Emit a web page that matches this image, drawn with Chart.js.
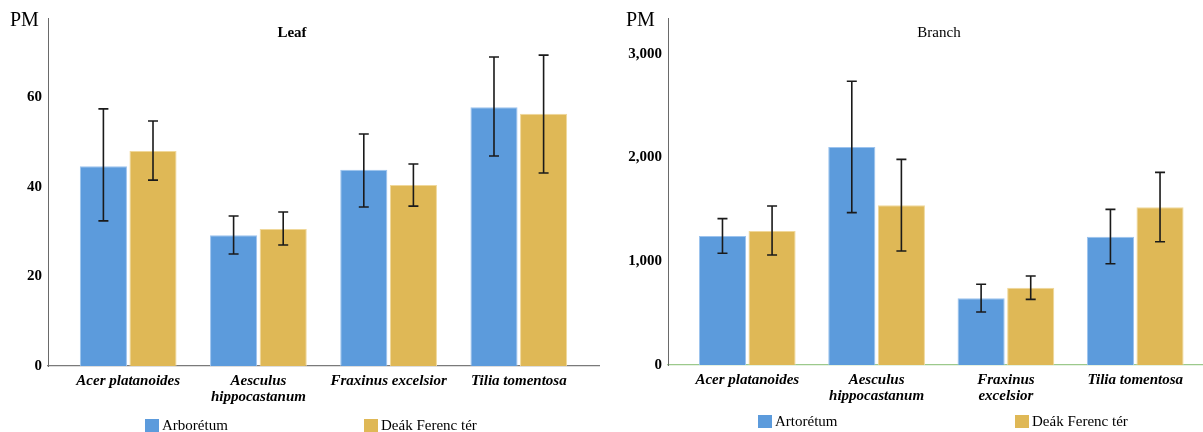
<!DOCTYPE html>
<html>
<head>
<meta charset="utf-8">
<script src="https://cdn.jsdelivr.net/npm/chart.js@4"></script>
<style>
  body { margin: 0; background: #fff; }
  .wrap { position: absolute; top: 0; height: 432px; }
  #leafWrap { left: 0; width: 600px; }
  #branchWrap { left: 600px; width: 603px; }
</style>
</head>
<body>
<div class="wrap" id="leafWrap"><canvas id="leafChart"></canvas></div>
<div class="wrap" id="branchWrap"><canvas id="branchChart"></canvas></div>
<script>
// species on the x axis (one entry per line of the tick label)
const leafCategories = [['Acer platanoides'], ['Aesculus', 'hippocastanum'], ['Fraxinus excelsior'], ['Tilia tomentosa']];
const branchCategories = [['Acer platanoides'], ['Aesculus', 'hippocastanum'], ['Fraxinus', 'excelsior'], ['Tilia tomentosa']];

// Leaf PM
const leafArb = [44.6, 29.2, 43.8, 57.8];
const leafArbLow = [32.4, 25.0, 35.5, 46.9];
const leafArbHigh = [57.4, 33.5, 51.8, 69.0];
const leafDeak = [48.0, 30.6, 40.4, 56.3];
const leafDeakLow = [41.5, 27.0, 35.7, 43.1];
const leafDeakHigh = [54.7, 34.4, 45.1, 69.4];
const leafTicks = [0, 20, 40, 60];

// Branch PM
const branchArb = [1244, 2102, 643, 1237];
const branchArbLow = [1077, 1469, 511, 977];
const branchArbHigh = [1411, 2736, 778, 1501];
const branchDeak = [1292, 1540, 746, 1521];
const branchDeakLow = [1061, 1099, 633, 1189];
const branchDeakHigh = [1533, 1983, 858, 1857];
const branchTicks = [0, 1000, 2000, 3000];

const BLUE = '#5c9bdc';
const GOLD = '#dfb856';
const SERIF = '"Liberation Serif", "Times New Roman", serif';

Chart.defaults.font.family = SERIF;
Chart.defaults.color = '#000';

// ============================================
// PLUGIN: error bars, "PM", panel title, legend
// ============================================

const extras = {
    id: 'extras',
    afterDatasetsDraw(chart, args, opts) {
        const ctx = chart.ctx;
        const y = chart.scales.y;
        ctx.save();
        ctx.strokeStyle = '#1a1a1a';
        ctx.lineWidth = 1.6;
        chart.data.datasets.forEach((ds, i) => {
            const meta = chart.getDatasetMeta(i);
            meta.data.forEach((bar, j) => {
                const top = y.getPixelForValue(opts.high[i][j]);
                const bot = y.getPixelForValue(opts.low[i][j]);
                ctx.beginPath();
                ctx.moveTo(bar.x, top);
                ctx.lineTo(bar.x, bot);
                ctx.moveTo(bar.x - 5, top);
                ctx.lineTo(bar.x + 5, top);
                ctx.moveTo(bar.x - 5, bot);
                ctx.lineTo(bar.x + 5, bot);
                ctx.stroke();
            });
        });
        ctx.restore();
    },
    afterDraw(chart, args, opts) {
        const ctx = chart.ctx;
        ctx.save();
        ctx.fillStyle = '#000';
        ctx.textBaseline = 'middle';

        ctx.font = '20px ' + SERIF;
        ctx.textAlign = 'left';
        ctx.fillText('PM', opts.pmX, 21);

        ctx.font = opts.titleFont;
        ctx.textAlign = 'center';
        ctx.fillText(opts.title, opts.titleX, 33);

        ctx.font = '15px ' + SERIF;
        ctx.textAlign = 'left';
        chart.data.datasets.forEach((ds, i) => {
            const x = opts.legendX[i];
            ctx.fillStyle = ds.backgroundColor;
            ctx.fillRect(x, opts.legendY - 6, 14, 13);
            ctx.fillStyle = '#000';
            ctx.fillText(ds.label, x + 17, opts.legendY + 1);
        });
        ctx.restore();
    }
};

// ============================================
// CHART BUILDER
// ============================================

function toPoints(values) {
    return values.map((v, i) => ({ x: i + 1, y: v }));
}

function makeChart(id, cfg) {
    const ctx = document.getElementById(id).getContext('2d');
    return new Chart(ctx, {
        type: 'bar',
        data: {
            datasets: [
                {
                    label: cfg.labels[0],
                    data: toPoints(cfg.series[0]),
                    backgroundColor: BLUE,
                    borderColor: '#9cc3ee',
                    borderWidth: 1
                },
                {
                    label: cfg.labels[1],
                    data: toPoints(cfg.series[1]),
                    backgroundColor: GOLD,
                    borderColor: '#f0d89a',
                    borderWidth: 1
                }
            ]
        },
        options: {
            responsive: true,
            maintainAspectRatio: false,
            animation: false,
            categoryPercentage: cfg.catPct,
            barPercentage: 0.95,
            layout: { padding: { top: 18, right: cfg.padRight, left: 0, bottom: 0 } },
            scales: {
                x: {
                    type: 'linear',
                    offset: false,
                    min: cfg.xMin,
                    max: cfg.xMax,
                    afterBuildTicks: s => { s.ticks = cfg.categories.map((c, i) => ({ value: i + 1 })); },
                    afterFit: s => { s.height = cfg.xHeight; },
                    grid: { display: false, drawTicks: false },
                    border: { display: true, color: cfg.xBorder, width: 1.2 },
                    ticks: {
                        autoSkip: false,
                        maxRotation: 0,
                        padding: 7,
                        font: { size: 15, weight: 'bold', style: 'italic', lineHeight: 1.05 },
                        callback: v => cfg.categories[v - 1] || ''
                    }
                },
                y: {
                    min: 0,
                    max: cfg.yMax,
                    afterBuildTicks: s => { s.ticks = cfg.yTicks.map(v => ({ value: v })); },
                    afterFit: s => { s.width = cfg.yWidth; },
                    grid: { display: false, drawTicks: false },
                    border: { display: true, color: '#6a6a6a', width: 1 },
                    ticks: {
                        padding: 6,
                        font: { size: 15, weight: 'bold' },
                        callback: v => v.toLocaleString('en-US')
                    }
                }
            },
            plugins: {
                legend: { display: false },
                tooltip: { enabled: false },
                extras: {
                    low: cfg.low,
                    high: cfg.high,
                    title: cfg.title,
                    titleFont: cfg.titleFont,
                    titleX: cfg.titleX,
                    pmX: cfg.pmX,
                    legendX: cfg.legendX,
                    legendY: cfg.legendY
                }
            }
        },
        plugins: [extras]
    });
}

makeChart('leafChart', {
    categories: leafCategories,
    labels: ['Arborétum', 'Deák Ferenc tér'],
    series: [leafArb, leafDeak],
    low: [leafArbLow, leafDeakLow],
    high: [leafArbHigh, leafDeakHigh],
    yTicks: leafTicks,
    yMax: 77.7,
    xMin: 0.384,
    xMax: 4.616,
    catPct: 0.762,
    padRight: 1,
    yWidth: 48,
    xHeight: 66,
    xBorder: '#7a7a7a',
    title: 'Leaf',
    titleFont: 'bold 15px ' + SERIF,
    titleX: 292,
    pmX: 10,
    legendX: [145, 364],
    legendY: 425
});

makeChart('branchChart', {
    categories: branchCategories,
    labels: ['Artorétum', 'Deák Ferenc tér'],
    series: [branchArb, branchDeak],
    low: [branchArbLow, branchDeakLow],
    high: [branchArbHigh, branchDeakHigh],
    yTicks: branchTicks,
    yMax: 3346,
    xMin: 0.387,
    xMax: 4.524,
    catPct: 0.767,
    padRight: 0,
    yWidth: 68,
    xHeight: 67,
    xBorder: '#9cc98c',
    title: 'Branch',
    titleFont: '15px ' + SERIF,
    titleX: 339,
    pmX: 26,
    legendX: [158, 415],
    legendY: 421
});
</script>
</body>
</html>
